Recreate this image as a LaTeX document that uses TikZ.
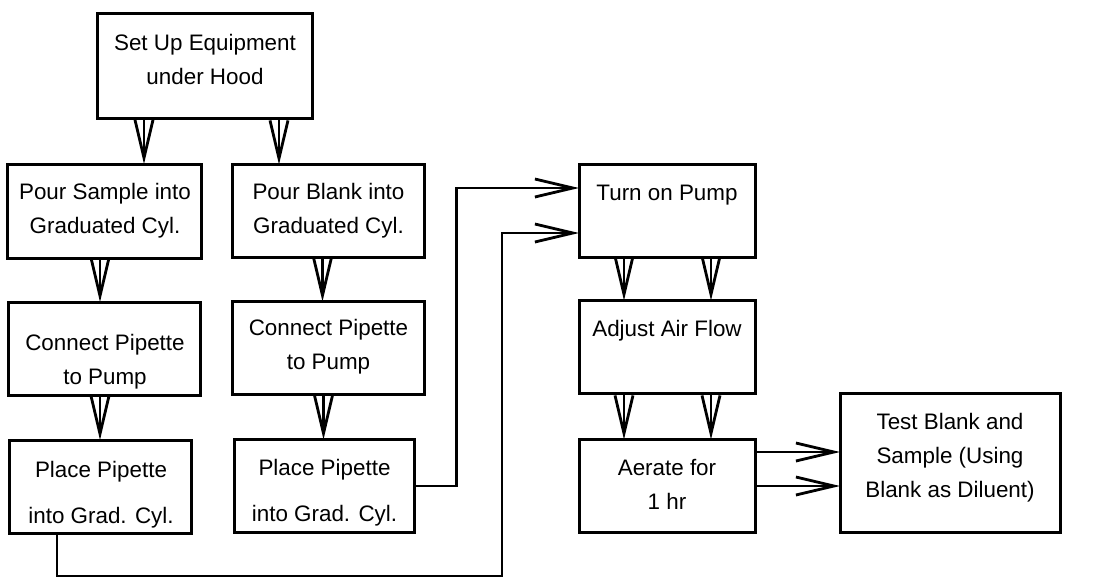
\documentclass[tikz,border=0pt]{standalone}
\usepackage{fontspec}
\setmainfont{Liberation Sans}
\usetikzlibrary{arrows.meta,positioning}

\begin{document}
\begin{tikzpicture}[
    node distance=22pt and 16pt,
    block/.style={draw=black, line width=1.5pt, inner sep=0pt, outer sep=0pt,
      minimum width=96pt, text height=35pt, text depth=11.5pt, align=center,
      font=\fontsize{11.2}{17}\selectfont},
    oneline/.style={block, minimum width=88pt, text height=18pt, text depth=28.5pt},
    arrow/.style={-{Straight Barb[length=19pt,width=9pt]}, line width=1.4pt}
  ]
    \useasboundingbox (-102.5pt,32.75pt) rectangle (452pt,-257.25pt);
    \node[block, minimum width=107pt, text height=35.5pt, text depth=17pt] (setup) {Set Up Equipment\\under Hood};
    \node[block, minimum width=97pt, text height=34.5pt, text depth=12.5pt, below=23pt of setup, xshift=-50pt] (pourS) {Pour Sample into\\Graduated Cyl.};
    \node[block, minimum width=95.5pt, text height=34.5pt, text depth=12pt, right=15.5pt of pourS] (pourB) {Pour Blank into\\Graduated Cyl.};
    \node[block, text height=41pt, text depth=5.5pt, below=of pourS] (connS) {Connect Pipette\\to Pump};
    \node[block, text height=34pt, text depth=12.5pt, below=of pourB] (connB) {Connect Pipette\\to Pump};
    \node[block, minimum width=91pt, text height=41.5pt, text depth=5pt, below=22.5pt of connS, xshift=-2pt] (placeS) {Place Pipette\\[6pt]into Grad. Cyl.};
    \node[block, minimum width=90pt, text height=41pt, text depth=5.5pt, below=22.5pt of connB, xshift=-2pt] (placeB) {Place Pipette\\[6pt]into Grad. Cyl.};
    \node[oneline, right=77.5pt of pourB] (turn) {Turn on Pump};
    \node[oneline, below=21.5pt of turn] (adjust) {Adjust Air Flow};
    \node[block, minimum width=88pt, below=23pt of adjust] (aerate) {Aerate for\\1 hr};
    \node[block, minimum width=110pt, text height=52pt, text depth=17.5pt, right=42.5pt of aerate.south east, anchor=south west] (test) {Test Blank and\\Sample (Using\\Blank as Diluent)};
    \coordinate (j1) at ([xshift=21pt]placeB.east);
    \coordinate (j2) at ([xshift=-22pt,yshift=-21.5pt]placeS.south);
    \coordinate (j3) at ([xshift=-38.5pt,yshift=-11pt]turn.west);
    \draw[arrow] ([xshift=-30.5pt]setup.south) -- ([xshift=-30.5pt]setup.south |- pourS.north);
    \draw[arrow] ([xshift=37pt]setup.south) -- ([xshift=37pt]setup.south |- pourB.north);
    \draw[arrow] ([xshift=-2.5pt]pourS.south) -- ([xshift=-2.5pt]pourS.south |- connS.north);
    \draw[arrow] ([xshift=-3pt]pourB.south) -- ([xshift=-3pt]pourB.south |- connB.north);
    \draw[arrow] ([xshift=-2.5pt]connS.south) -- ([xshift=-2.5pt]connS.south |- placeS.north);
    \draw[arrow] ([xshift=-2.5pt]connB.south) -- ([xshift=-2.5pt]connB.south |- placeB.north);
    \draw[arrow] (placeB.east) -- (j1) |- ([yshift=11.5pt]turn.west);
    \draw[arrow] ([xshift=-22pt]placeS.south) -- (j2) -| (j3) -- ([yshift=-11pt]turn.west);
    \foreach \s in {-21.5pt,22pt} {
      \draw[arrow] ([xshift=\s]turn.south) -- ([xshift=\s]turn.south |- adjust.north);
      \draw[arrow] ([xshift=\s]adjust.south) -- ([xshift=\s]adjust.south |- aerate.north);
    }
    \foreach \s in {17pt,0pt}
      \draw[arrow] ([yshift=\s]aerate.east) -- ([yshift=\s]aerate.east -| test.west);
  \end{tikzpicture}
\end{document}
